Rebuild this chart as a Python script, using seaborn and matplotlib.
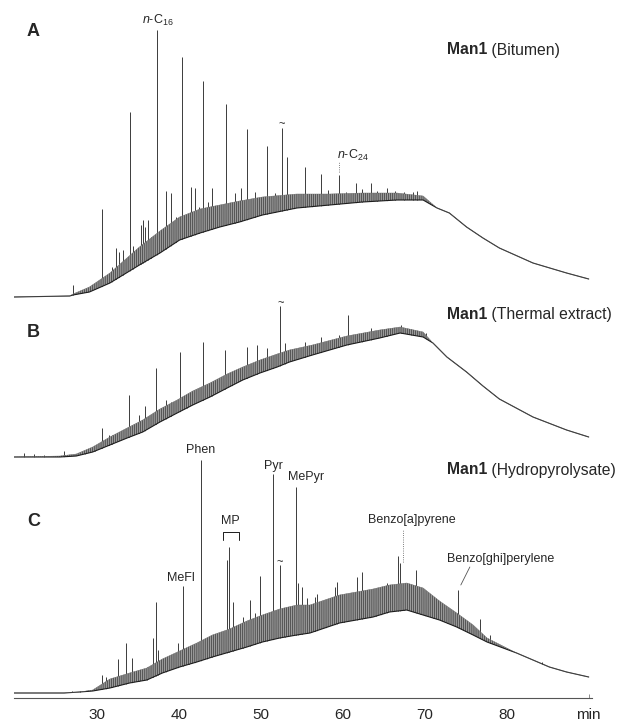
import matplotlib.pyplot as plt
import seaborn as sns

sns.set_style('white')
plt.rcParams['font.family'] = ['Liberation Sans', 'DejaVu Sans']
plt.rcParams['mathtext.fontset'] = 'custom'
plt.rcParams['mathtext.rm'] = 'Liberation Sans'
plt.rcParams['mathtext.it'] = 'Liberation Sans:italic'
plt.rcParams['hatch.linewidth'] = 0.45

# A - bitumen: hump (lower / upper edge of the unresolved band) and resolved peaks
a_t = [19.9, 26.7, 27.1, 29.1, 31.6, 35.2, 37.7, 40.1, 42.6, 45.0, 47.4, 50.2, 54.4,
       58.4, 62.4, 66.6, 69.8, 71.5, 73.0, 75.1, 77.1, 79.1, 83.2, 87.3, 90.0]
a_lo = [0, 1, 2, 5, 14, 32, 44, 57, 64, 70, 75, 82, 89, 92, 95, 97, 97, 89, 84, 70, 59, 49, 34, 24, 18]
a_hi = [0, 1, 3, 10, 24, 50, 66, 80, 88, 92, 96, 100, 103, 103, 104, 104, 101, 89, 84, 70, 59, 49, 34, 24, 18]
a_peak_t = [27.1, 30.6, 31.9, 32.3, 32.7, 33.2, 34.0, 34.4, 35.4, 35.6, 35.9, 36.2, 36.6, 37.3,
            38.5, 39.0, 39.6, 40.4, 41.5, 42.0, 42.5, 43.0, 43.6, 44.1, 45.8, 46.8, 47.6, 48.3,
            49.3, 50.7, 51.7, 52.6, 53.2, 54.0, 55.4, 56.3, 57.4, 58.2, 59.6, 60.4, 61.6, 62.3,
            63.4, 64.2, 65.4, 66.4, 67.5, 68.6, 69.0]
a_peak_h = [12, 88, 30, 49, 45, 47, 185, 51, 72, 77, 70, 77, 60, 267,
            106, 104, 80, 240, 110, 109, 90, 216, 95, 109, 193, 104, 109, 168,
            105, 151, 104, 169, 140, 100, 130, 102, 123, 107, 122, 105, 114, 108,
            114, 106, 109, 106, 105, 105, 106]

# B - thermal extract
b_t = [19.9, 25.5, 27.5, 29.5, 31.6, 33.7, 35.6, 37.7, 39.8, 41.7, 43.8, 45.9, 47.8, 49.9,
       52.0, 53.5, 56.3, 60.5, 64.5, 67.0, 69.8, 71.0, 72.7, 75.1, 77.1, 79.1, 83.2, 87.3, 90.0]
b_lo = [0, 0, 1, 5, 12, 19, 25, 35, 44, 52, 60, 69, 77, 84, 90, 95, 102, 112, 119, 124, 120,
        114, 100, 85, 71, 58, 40, 27, 20]
b_hi = [0, 1, 3, 10, 20, 29, 37, 48, 57, 66, 74, 83, 90, 97, 103, 107, 112, 121, 127, 130, 125,
        114, 100, 85, 71, 58, 40, 27, 20]
b_peak_t = [21.1, 22.4, 23.5, 26.0, 28.5, 29.8, 30.6, 31.5, 31.9, 33.9, 35.2, 35.9, 37.2, 38.5,
            39.0, 40.1, 41.0, 42.9, 44.0, 45.6, 46.5, 48.3, 49.5, 50.7, 51.5, 52.4, 53.0, 55.4,
            57.4, 59.5, 60.6, 62.3, 63.4, 65.4, 67.1, 68.3, 70.2]
b_peak_h = [4, 3, 2, 6, 6, 10, 29, 22, 22, 62, 42, 51, 89, 57,
            55, 105, 62, 115, 72, 107, 80, 110, 112, 109, 98, 151, 114, 115,
            120, 122, 142, 120, 129, 128, 132, 128, 124]

# C - hydropyrolysate
c_t = [19.9, 26.0, 27.9, 29.5, 31.6, 34.0, 36.1, 38.0, 40.1, 42.2, 44.1, 46.2, 48.3, 50.2,
       52.3, 54.4, 56.0, 59.6, 63.7, 65.7, 67.8, 69.8, 71.8, 73.9, 75.9, 77.6, 81.2, 83.2,
       85.2, 87.3, 90.0]
c_lo = [0, 0, 1, 2, 5, 10, 13, 20, 26, 31, 36, 41, 46, 51, 55, 58, 60, 70, 76, 81, 83, 78,
        73, 66, 58, 51, 40, 33, 26, 21, 16]
c_hi = [0, 0, 1, 3, 14, 20, 25, 34, 42, 50, 58, 64, 72, 78, 84, 88, 88, 98, 104, 108, 110, 105,
        92, 80, 68, 55, 40, 33, 26, 21, 16]
c_peak_t = [27.0, 28.0, 30.6, 31.1, 31.8, 32.6, 33.5, 34.3, 35.2, 36.1, 36.8, 37.2, 37.5, 38.5,
            39.9, 40.5, 41.3, 42.0, 42.7, 43.5, 44.1, 45.2, 45.9, 46.1, 46.6, 47.8, 48.7, 49.3,
            49.9, 50.7, 51.5, 52.3, 52.9, 54.3, 54.6, 55.0, 55.6, 56.6, 56.9, 58.0, 59.1, 59.3,
            60.2, 61.7, 62.4, 63.3, 64.1, 64.7, 65.4, 66.7, 67.0, 67.5, 68.9, 69.4, 70.0, 71.0,
            72.7, 74.1, 76.7, 77.9, 84.3]
c_peak_h = [2, 2, 18, 16, 15, 34, 50, 35, 23, 26, 55, 91, 43, 33,
            50, 107, 46, 46, 233, 46, 51, 45, 133, 146, 91, 76, 93, 80,
            117, 70, 219, 128, 63, 206, 110, 106, 95, 96, 99, 90, 106, 111,
            83, 116, 121, 88, 96, 103, 110, 137, 130, 93, 123, 103, 96, 93,
            83, 103, 74, 58, 31]

W, H = 621, 722
fig = plt.figure(figsize=(W / 100, H / 100), dpi=100)

def px_axes(top, bottom):
    return fig.add_axes([14 / W, 1 - bottom / H, 578 / W, (bottom - top) / H])

ax_a = px_axes(20, 300)
ax_b = px_axes(300, 460)
ax_c = px_axes(450, 698)
panels = [
    (ax_a, a_t, a_lo, a_hi, a_peak_t, a_peak_h, (-3, 277)),
    (ax_b, b_t, b_lo, b_hi, b_peak_t, b_peak_h, (-3, 157)),
    (ax_c, c_t, c_lo, c_hi, c_peak_t, c_peak_h, (-5, 243)),
]

ink = '#1c1c1c'
for ax, t, lo, hi, pk_t, pk_h, ylim in panels:
    ax.set_facecolor('none')
    ax.vlines(pk_t, 0, pk_h, color=ink, lw=0.6, zorder=1)
    ax.fill_between(t, ylim[0], lo, color='white', lw=0, zorder=2)
    # unresolved "grass" band drawn as a fine hatched strip
    ax.fill_between(t, lo, hi, facecolor='#9a9a9a', edgecolor='#2e2e2e', hatch='||||||||',
                    lw=0, zorder=2.5)
    sns.lineplot(x=t, y=lo, ax=ax, color=ink, lw=0.8, zorder=3)
    sns.lineplot(x=t, y=hi, ax=ax, color='#6a6a6a', lw=0.3, zorder=3)
    ax.set_xlim(19.9, 90.4)
    ax.set_ylim(*ylim)
    ax.set_xlabel('')
    ax.set_ylabel('')
    ax.set_yticks([])
    for s in ['top', 'left', 'right', 'bottom']:
        ax.spines[s].set_visible(False)
    if ax is not ax_c:
        ax.set_xticks([])

# time axis on the bottom panel only
ax_c.spines['bottom'].set_visible(True)
ax_c.spines['bottom'].set_color('#555555')
ax_c.spines['bottom'].set_linewidth(0.8)
ax_c.set_xticks([30, 40, 50, 60, 70, 80, 90])
ax_c.set_xticklabels(['30', '40', '50', '60', '70', '80', 'min'])
ax_c.set_xticks(list(range(20, 90, 5)), minor=True)
ax_c.tick_params(axis='x', which='both', direction='in', length=3, width=0.6,
                 color='#555555', labelsize=11, pad=7, bottom=True)

# panel letters and titles
title_y = [50, 315, 470]
names = [' (Bitumen)', ' (Thermal extract)', ' (Hydropyrolysate)']
letter_y = [32, 333, 521]
for letter, ly, ty, name in zip('ABC', letter_y, title_y, names):
    fig.text(27 / W, 1 - ly / H, letter, fontsize=13, fontweight='bold', va='center')
    t1 = fig.text(447 / W, 1 - ty / H, 'Man1', fontsize=11.3, fontweight='bold', va='center')
    ax_a.annotate(name, xy=(1, 0), xycoords=t1, fontsize=11.3, va='bottom', ha='left',
                  annotation_clip=False)

lab = dict(fontsize=9, ha='center', va='center')
# A annotations
ax_a.text(37.5, 277, r'$n$-$\mathrm{C}_{16}$', **lab)
ax_a.text(59.3, 142, r'$n$-$\mathrm{C}_{24}$', fontsize=9, ha='left', va='center')
ax_a.plot([59.6, 59.6], [125, 136], ls=':', lw=0.6, color='#555555')
ax_a.text(52.6, 173, '~', fontsize=8, ha='center', va='center')
# B annotations
ax_b.text(52.4, 154, '~', fontsize=8, ha='center', va='center')
# C annotations
ax_c.text(42.7, 243, 'Phen', **lab)
ax_c.text(51.5, 227, 'Pyr', **lab)
ax_c.text(53.3, 216, 'MePyr', fontsize=9, ha='left', va='center')
ax_c.text(40.2, 115, 'MeFl', **lab)
ax_c.text(46.3, 172, 'MP', **lab)
ax_c.plot([45.4, 45.4, 47.3, 47.3], [153, 161, 161, 153], color=ink, lw=0.7)
ax_c.text(52.3, 131, '~', fontsize=8, ha='center', va='center')
ax_c.text(68.4, 173, 'Benzo[a]pyrene', **lab)
ax_c.plot([67.4, 67.4], [131, 163], ls=':', lw=0.6, color='#555555')
ax_c.text(79.3, 134, 'Benzo[ghi]perylene', **lab)
ax_c.plot([74.4, 75.5], [108, 126], lw=0.6, color='#555555')

fig.savefig('out.png', dpi=100)
